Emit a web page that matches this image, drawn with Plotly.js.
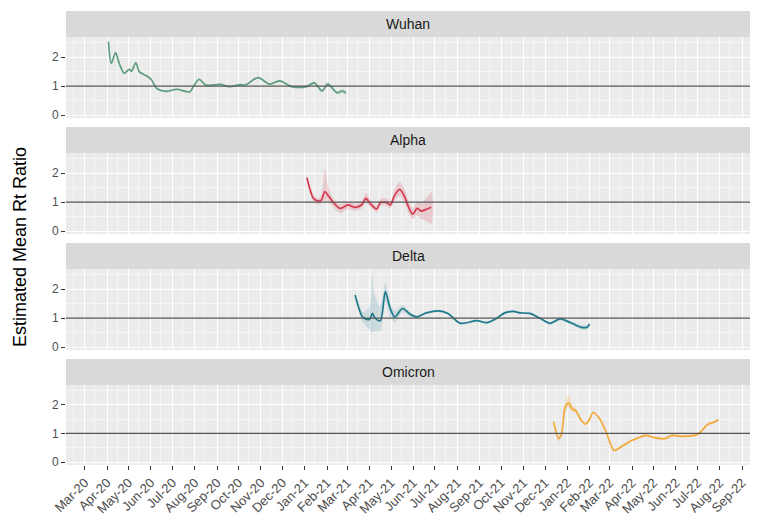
<!DOCTYPE html>
<html>
<head>
<meta charset="utf-8">
<script src="https://cdn.plot.ly/plotly-3.0.1.min.js"></script>
<style>html,body{margin:0;padding:0;background:#fff;}#chart{width:763px;height:523px;}</style>
</head>
<body>
<div id="chart"></div>
<script>
// ---------------- data ----------------
const variantNames = ["Wuhan", "Alpha", "Delta", "Omicron"];

const wuhanDates = ["2020-04-03","2020-04-07","2020-04-13","2020-04-18","2020-04-25","2020-05-02","2020-05-05","2020-05-11","2020-05-16","2020-05-27","2020-06-02","2020-06-09","2020-06-23","2020-07-07","2020-07-25","2020-07-30","2020-08-07","2020-08-17","2020-09-05","2020-09-19","2020-10-03","2020-10-10","2020-10-28","2020-11-13","2020-11-27","2020-12-14","2021-01-03","2021-01-14","2021-01-25","2021-02-02","2021-02-15","2021-02-22","2021-02-27"];
const wuhanRt = [2.53,1.78,2.15,1.78,1.44,1.58,1.51,1.80,1.49,1.34,1.21,0.92,0.82,0.89,0.80,0.98,1.23,1.03,1.06,0.98,1.05,1.03,1.29,1.07,1.18,0.98,0.98,1.11,0.83,1.07,0.77,0.83,0.77];
const wuhanLo = [2.50,1.75,2.12,1.75,1.41,1.55,1.48,1.77,1.46,1.31,1.18,0.89,0.79,0.86,0.77,0.95,1.20,1.00,1.03,0.95,1.02,1.00,1.26,1.04,1.15,0.95,0.94,1.06,0.78,1.01,0.71,0.76,0.70];
const wuhanHi = [2.56,1.81,2.18,1.81,1.47,1.61,1.54,1.83,1.52,1.37,1.24,0.95,0.85,0.92,0.83,1.01,1.26,1.06,1.09,1.01,1.08,1.06,1.32,1.10,1.21,1.01,1.02,1.16,0.88,1.13,0.83,0.90,0.84];

const alphaDates = ["2021-01-04","2021-01-13","2021-01-20","2021-01-24","2021-01-29","2021-02-02","2021-02-09","2021-02-19","2021-03-02","2021-03-12","2021-03-21","2021-03-27","2021-04-02","2021-04-11","2021-04-16","2021-04-25","2021-04-30","2021-05-06","2021-05-13","2021-05-20","2021-05-25","2021-05-31","2021-06-06","2021-06-12","2021-06-19","2021-06-26"];
const alphaRt = [1.84,1.13,1.03,1.07,1.36,1.24,1.01,0.78,0.90,0.82,0.90,1.13,0.95,0.76,0.98,0.98,0.90,1.24,1.44,1.18,0.84,0.58,0.78,0.69,0.75,0.82];
const alphaLo = [1.75,1.00,0.92,0.95,1.05,1.00,0.85,0.62,0.75,0.70,0.78,0.98,0.83,0.65,0.86,0.86,0.78,1.05,1.20,0.95,0.65,0.40,0.55,0.42,0.35,0.25];
const alphaHi = [1.90,1.25,1.12,1.25,2.15,1.60,1.15,0.92,1.02,0.95,1.02,1.30,1.08,0.88,1.10,1.12,1.03,1.45,1.70,1.42,1.05,0.80,1.02,0.98,1.15,1.35];

const deltaDates = ["2021-03-12","2021-03-18","2021-03-23","2021-04-01","2021-04-05","2021-04-08","2021-04-16","2021-04-23","2021-04-29","2021-05-06","2021-05-17","2021-05-27","2021-06-05","2021-06-19","2021-07-06","2021-07-19","2021-08-05","2021-08-28","2021-09-11","2021-09-22","2021-10-06","2021-10-18","2021-10-27","2021-11-10","2021-11-24","2021-12-08","2021-12-22","2022-01-05","2022-01-21","2022-01-28","2022-02-01"];
const deltaRt = [1.79,1.28,1.02,0.95,1.16,1.02,0.91,1.91,1.39,1.04,1.33,1.14,1.04,1.18,1.25,1.16,0.82,0.91,0.84,0.95,1.18,1.23,1.18,1.16,0.99,0.82,0.97,0.85,0.68,0.68,0.79];
const deltaLo = [1.70,1.15,0.85,0.60,0.50,0.55,0.55,1.60,1.10,0.85,1.20,1.05,0.99,1.14,1.21,1.12,0.78,0.87,0.80,0.91,1.14,1.19,1.14,1.12,0.95,0.78,0.92,0.79,0.61,0.61,0.72];
const deltaHi = [1.90,1.45,1.20,1.40,2.50,1.80,1.40,2.20,1.65,1.25,1.45,1.22,1.09,1.22,1.29,1.20,0.86,0.95,0.88,0.99,1.22,1.27,1.22,1.20,1.03,0.86,1.02,0.91,0.75,0.75,0.86];

const omicronDates = ["2021-12-13","2021-12-20","2021-12-24","2021-12-29","2022-01-03","2022-01-08","2022-01-13","2022-01-19","2022-01-26","2022-01-31","2022-02-06","2022-02-15","2022-02-25","2022-03-07","2022-03-18","2022-04-01","2022-04-12","2022-04-20","2022-05-03","2022-05-17","2022-05-26","2022-06-09","2022-06-30","2022-07-05","2022-07-16","2022-07-24","2022-07-30"];
const omicronRt = [1.41,0.82,0.99,1.91,2.06,1.85,1.79,1.51,1.33,1.45,1.73,1.51,0.99,0.41,0.55,0.76,0.87,0.93,0.85,0.82,0.93,0.90,0.96,1.05,1.33,1.39,1.48];
const omicronLo = [1.36,0.72,0.90,1.75,1.90,1.75,1.72,1.46,1.29,1.41,1.69,1.47,0.95,0.37,0.51,0.72,0.83,0.89,0.81,0.78,0.89,0.86,0.92,1.01,1.29,1.35,1.44];
const omicronHi = [1.46,0.92,1.08,2.10,2.32,1.98,1.87,1.57,1.37,1.49,1.77,1.55,1.03,0.45,0.59,0.80,0.91,0.97,0.89,0.86,0.97,0.94,1.00,1.09,1.37,1.43,1.52];

const yTickVals = [0, 1, 2];
const yTickText = ["0", "1", "2"];

// ---------------- styling / layout ----------------
const series = [
  {dates: wuhanDates, rt: wuhanRt, lo: wuhanLo, hi: wuhanHi, color: "#5E9E7E", fill: "rgba(94,158,126,0.25)"},
  {dates: alphaDates, rt: alphaRt, lo: alphaLo, hi: alphaHi, color: "#D63A4F", fill: "rgba(214,58,79,0.18)"},
  {dates: deltaDates, rt: deltaRt, lo: deltaLo, hi: deltaHi, color: "#1F7A8C", fill: "rgba(31,122,140,0.16)"},
  {dates: omicronDates, rt: omicronRt, lo: omicronLo, hi: omicronHi, color: "#F2A93B", fill: "rgba(242,169,59,0.25)"}
];

const W = 763, H = 523;
const mL = 66, mR = 13, mT = 11, mB = 58;
const plotBottom = H - mB; // 465
const ph = H - mT - mB;    // 454
const panelPix = [[37,118],[153,234],[269,350],[385,465]];
const stripPix = [[11,37],[127,153],[243,269],[359,385]];
const toPaper = p => (plotBottom - p) / ph;

const FONT = "Liberation Sans, Arial, Helvetica, sans-serif";
const traces = [];
const layout = {
  width: W, height: H,
  margin: {l: mL, r: mR, t: mT, b: mB, pad: 0},
  paper_bgcolor: "#FFFFFF",
  plot_bgcolor: "#EBEBEB",
  showlegend: false,
  font: {family: FONT, color: "#4D4D4D", size: 12},
  shapes: [],
  annotations: []
};

series.forEach((s, i) => {
  const n = i + 1;
  const xa = n === 1 ? "x" : "x" + n;
  const ya = n === 1 ? "y" : "y" + n;
  traces.push({
    type: "scatter", mode: "lines",
    x: s.dates.concat(s.dates.slice().reverse()),
    y: s.hi.concat(s.lo.slice().reverse()),
    fill: "toself", fillcolor: s.fill,
    line: {width: 0, color: s.fill, shape: "spline", smoothing: 0.8},
    xaxis: xa, yaxis: ya, hoverinfo: "skip"
  });
  traces.push({
    type: "scatter", mode: "lines",
    x: s.dates, y: s.rt,
    line: {color: s.color, width: 1.7, shape: "spline", smoothing: 0.8},
    xaxis: xa, yaxis: ya
  });

  const xKey = n === 1 ? "xaxis" : "xaxis" + n;
  const yKey = n === 1 ? "yaxis" : "yaxis" + n;
  const isBottom = n === 4;
  layout[xKey] = {
    type: "date",
    range: ["2020-02-04", "2022-09-12"],
    anchor: ya,
    domain: [0, 1],
    tick0: "2020-03-01", dtick: "M1", tickformat: "%b-%y",
    tickangle: -45,
    showticklabels: isBottom,
    ticks: isBottom ? "outside" : "",
    ticklen: 4, tickwidth: 1, tickcolor: "#333333",
    tickfont: {family: FONT, size: 13, color: "#4D4D4D"},
    showgrid: true, gridcolor: "#FFFFFF", gridwidth: 1,
    minor: {tick0: "2020-02-15", dtick: "M1", showgrid: true, gridcolor: "#FFFFFF", gridwidth: 0.5, ticks: ""},
    zeroline: false, showline: false, fixedrange: true
  };
  if (n > 1) layout[xKey].matches = "x";
  layout[yKey] = {
    anchor: xa,
    domain: [toPaper(panelPix[i][1]), toPaper(panelPix[i][0])],
    range: [-0.1, 2.69],
    tickvals: yTickVals, ticktext: yTickText,
    ticks: "outside", ticklen: 4, tickwidth: 1, tickcolor: "#333333",
    tickfont: {family: FONT, size: 12, color: "#4D4D4D"},
    showgrid: true, gridcolor: "#FFFFFF", gridwidth: 1,
    minor: {dtick: 0.5, tick0: 0, showgrid: true, gridcolor: "#FFFFFF", gridwidth: 0.5, ticks: ""},
    zeroline: false, showline: false, fixedrange: true
  };
  layout.shapes.push({
    type: "line", xref: xa + " domain", yref: ya,
    x0: 0, x1: 1, y0: 1, y1: 1,
    line: {color: "#555555", width: 1.2}, layer: "above"
  });
  layout.shapes.push({
    type: "rect", xref: "paper", yref: "paper",
    x0: 0, x1: 1, y0: toPaper(stripPix[i][1]), y1: toPaper(stripPix[i][0]),
    fillcolor: "#D9D9D9", line: {width: 0}, layer: "below"
  });
  layout.annotations.push({
    xref: "paper", yref: "paper",
    x: 0.5, y: (toPaper(stripPix[i][1]) + toPaper(stripPix[i][0])) / 2,
    xanchor: "center", yanchor: "middle",
    text: variantNames[i], showarrow: false,
    font: {family: FONT, size: 14, color: "#1A1A1A"}
  });
});

layout.annotations.push({
  xref: "paper", yref: "paper",
  x: (20 - mL) / (W - mL - mR), y: toPaper(247),
  xanchor: "center", yanchor: "middle",
  text: "Estimated Mean Rt Ratio", textangle: -90, showarrow: false,
  font: {family: FONT, size: 18, color: "#000000"}
});

Plotly.newPlot("chart", traces, layout, {displayModeBar: false, staticPlot: true});
</script>
</body>
</html>
